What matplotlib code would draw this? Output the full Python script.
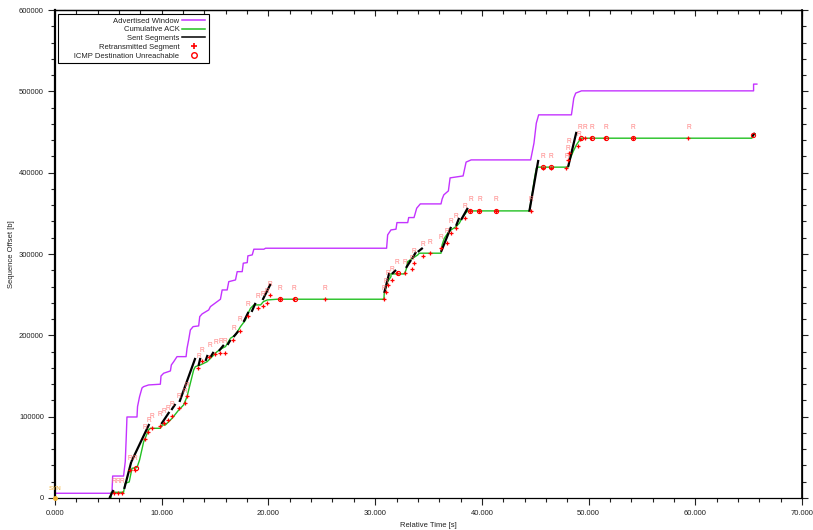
import matplotlib
matplotlib.use("Agg")
import matplotlib.pyplot as plt
from matplotlib.ticker import MultipleLocator, FormatStrFormatter, NullFormatter
from matplotlib.lines import Line2D

plt.rcParams['font.family'] = ['Liberation Sans', 'DejaVu Sans']

# ---- data (time [s], sequence offset [b]) ----
adv_t = [0.00, 5.33, 5.40, 6.42, 6.58, 6.67, 6.74, 7.68, 7.73, 7.92, 8.15, 8.30, 8.77, 9.87, 9.93,
         10.18, 10.81, 10.90, 11.12, 11.43, 12.28, 12.37, 12.52, 12.68, 12.94, 13.46, 13.56, 13.78,
         14.40, 14.56, 15.50, 15.66, 16.13, 16.28, 16.91, 17.07, 17.54, 17.64, 18.01, 18.07, 18.48,
         18.63, 19.57, 19.73, 31.07, 31.17, 31.48, 31.95, 32.04, 33.05, 33.14, 33.64, 33.76, 33.89,
         34.23, 36.17, 36.27, 36.43, 36.86, 37.02, 38.24, 38.52, 38.99, 44.57, 44.88, 45.10, 45.32,
         48.39, 48.48, 48.61, 48.79, 49.33, 65.46, 65.46, 65.77]
adv_seq = [5800, 5800, 27000, 27000, 44600, 73800, 99600, 99600, 112300, 124600, 135300, 136900,
           139000, 139900, 150000, 153400, 156200, 163600, 167600, 173800, 173800, 184100, 194300,
           206600, 210700, 211600, 223000, 226300, 231200, 235300, 244400, 255800, 255800, 266000,
           268100, 278300, 278300, 288700, 289400, 297700, 298900, 305900, 305900, 307100, 307100,
           323500, 329600, 330500, 338600, 338600, 344800, 344800, 350200, 356300, 361600, 361600,
           367400, 372700, 377600, 393600, 396000, 413000, 415700, 415700, 436300, 460900, 471100,
           471100, 479300, 491600, 497800, 500600, 500600, 508900, 508900]

ack_t = [5.10, 5.26, 5.26, 6.42, 6.58, 6.95, 7.21, 7.68, 7.92, 8.30, 8.77, 8.93, 9.87, 10.03, 10.34,
         10.65, 10.97, 11.59, 11.75, 12.05, 12.37, 12.68, 12.99, 13.15, 13.62, 14.25, 14.72, 15.19,
         15.66, 15.97, 16.44, 16.91, 17.38, 17.85, 18.01, 18.32, 18.63, 19.26, 19.52, 19.89, 20.83,
         30.82, 30.85, 31.17, 31.48, 31.48, 32.73, 32.89, 33.05, 33.52, 33.99, 34.14, 36.17, 36.27,
         36.48, 36.80, 37.11, 37.58, 37.89, 38.12, 38.36, 38.52, 38.68, 44.44, 44.63, 44.91, 45.10,
         45.26, 48.08, 48.23, 48.55, 48.86, 49.17, 49.33, 65.30, 65.46, 65.58]
ack_seq = [0, 0, 7000, 7000, 18100, 19700, 36500, 37500, 46700, 68900, 83600, 85700, 85700, 89800,
           89800, 93800, 98000, 108200, 110300, 114400, 124600, 141100, 157400, 161500, 163600,
           167600, 173800, 180000, 184100, 186100, 196400, 200500, 210700, 218900, 225100, 233300,
           237400, 237400, 241400, 243500, 244400, 244400, 251800, 266000, 272200, 275500, 275500,
           280400, 290600, 294800, 298900, 301000, 301000, 311200, 319400, 325600, 329600, 333700,
           337900, 344000, 348100, 350900, 353000, 353000, 366500, 391100, 405500, 406800, 406800,
           415700, 425900, 434200, 440300, 442400, 442400, 446500, 447700]

# sent-segment bursts: start time, start seq, end time, end seq
sent_t0 = [5.10, 6.48, 7.14, 9.96, 10.90, 11.66, 13.44, 14.10, 14.58, 15.35, 16.16, 16.72, 17.67,
           18.42, 19.45, 30.85, 31.57, 32.89, 33.45, 33.99, 36.17, 37.58, 38.05, 44.44, 48.08, 65.30]
sent_s0 = [0, 11100, 44300, 91000, 108200, 118100, 162400, 168500, 173400, 180800, 188200, 198000,
           216500, 228800, 243500, 252200, 275500, 282900, 294000, 302600, 302600, 334600, 341900,
           351800, 407100, 444000]
sent_t1 = [5.48, 7.14, 8.83, 10.71, 11.28, 13.15, 13.62, 14.30, 14.86, 15.82, 16.44, 17.19, 18.13,
           18.79, 20.20, 31.32, 31.95, 33.36, 33.83, 34.46, 37.11, 37.87, 38.68, 45.29, 48.86, 65.58]
sent_s1 = [9800, 44300, 91000, 105800, 115600, 172200, 172200, 175900, 179600, 188200, 194300,
           205400, 228800, 239900, 263200, 276800, 280400, 292700, 302600, 307500, 333300, 344400,
           356700, 415700, 450200, 448900]

rtx_t = [5.54, 5.92, 6.30, 7.05, 7.52, 8.46, 8.75, 9.11, 9.87, 10.20, 10.55, 10.92, 11.65, 12.21,
         12.40, 13.44, 13.75, 14.47, 15.03, 15.50, 15.95, 16.72, 17.29, 18.04, 18.98, 19.45, 19.85,
         20.15, 21.05, 22.36, 25.27,
         30.79, 31.20, 31.00, 31.60, 32.04, 32.79, 33.42, 33.67, 34.46, 35.14, 36.17, 36.74,
         37.11, 37.58, 38.43, 38.93, 39.77, 41.34, 44.57,
         45.73, 46.51, 47.92, 48.05, 48.15, 49.05, 49.20, 49.64, 50.27, 51.58, 54.12, 59.35]
rtx_seq = [6150, 6150, 6150, 34400, 34400, 72600, 81000, 86100, 88600, 92500, 96000, 101000, 110700,
           116900, 125000, 159900, 168000, 173400, 177100, 178400, 178400, 194300, 205400, 223900,
           233700, 236200, 240000, 249000, 244400, 244400, 244400,
           244400, 262000, 253000, 267500, 276400, 276400, 281300, 289400, 297700, 301000,
           307100, 314000, 326300, 332500, 344800, 353000, 353000, 353000, 353000,
           406300, 406300, 406300, 415500, 424500, 433000, 442000, 442400, 442400, 442400, 442400,
           442400]

icmp_t = [7.61, 21.08, 22.46, 32.11, 38.93, 39.77, 41.34, 45.73, 46.51, 49.26, 50.33, 51.61, 54.19,
          65.38]
icmp_seq = [36900, 244400, 244400, 276400, 353000, 353000, 353000, 406800, 406800, 442400, 442400,
            442400, 442400, 446500]

syn_t = [0.0]
syn_seq = [0]

legend_labels = ['Advertised Window', 'Cumulative ACK', 'Sent Segments', 'Retransmitted Segment',
                 'ICMP Destination Unreachable']

PURPLE = '#c433ff'
GREEN = '#22c022'
RPINK = '#ff6a6a'

fig = plt.figure(figsize=(8.13, 5.30), dpi=100)
ax = fig.add_axes([0.0677, 0.0604, 0.9188, 0.9207])

ax.plot(adv_t, adv_seq, color=PURPLE, lw=1.0, zorder=2)
ax.plot(ack_t, ack_seq, color=GREEN, lw=1.0, zorder=3)
for a, b, c, d in zip(sent_t0, sent_s0, sent_t1, sent_s1):
    ax.plot([a, c], [b, d], color='black', lw=1.6, solid_capstyle='butt', zorder=4)

ax.plot(rtx_t, rtx_seq, linestyle='none', marker='+', color='red', ms=3.0, mew=0.9, zorder=5)
for t, s in zip(rtx_t, rtx_seq):
    ax.annotate('R', (t, s), xytext=(0, 5.5), textcoords='offset points', ha='center',
                va='bottom', fontsize=4.8, color=RPINK, alpha=0.85, zorder=6)
ax.plot(icmp_t, icmp_seq, linestyle='none', marker='o', mfc='none', mec='red', ms=3.0, mew=0.8,
        zorder=5)

ax.plot(syn_t, syn_seq, linestyle='none', marker='o', color='#f0b030', ms=2.5, clip_on=False, zorder=6)
for t, s in zip(syn_t, syn_seq):
    ax.annotate('SYN', (t, s), xytext=(0, 5), textcoords='offset points', ha='center', va='bottom',
                fontsize=4.5, color='#f0b030', annotation_clip=False)

ax.set_xlim(0, 70)
ax.set_ylim(0, 600000)
ax.xaxis.set_major_locator(MultipleLocator(10))
ax.xaxis.set_minor_locator(MultipleLocator(2))
ax.yaxis.set_major_locator(MultipleLocator(100000))
ax.yaxis.set_minor_locator(MultipleLocator(20000))
ax.xaxis.set_major_formatter(FormatStrFormatter('%.3f'))
ax.yaxis.set_major_formatter(FormatStrFormatter('%d'))

ax.tick_params(axis='both', which='both', labelsize=5.5, colors='#222222', labelcolor='#222222',
               top=False, right=False)
ax.tick_params(axis='x', which='major', direction='out', length=5, width=0.8, pad=4)
ax.tick_params(axis='x', which='minor', direction='out', length=3, width=0.8)
ax.tick_params(axis='y', which='major', direction='out', length=5, width=0.8, pad=3)
ax.tick_params(axis='y', which='minor', direction='out', length=3, width=0.8)

# top axis: ticks pointing inward; right axis: ticks outward
secx = ax.secondary_xaxis('top')
secx.xaxis.set_major_locator(MultipleLocator(10))
secx.xaxis.set_minor_locator(MultipleLocator(2))
secx.xaxis.set_major_formatter(NullFormatter())
secx.tick_params(which='major', direction='in', length=4, width=0.8, colors='#222222')
secx.tick_params(which='minor', direction='in', length=3, width=0.8, colors='#222222')
secx.spines['top'].set_linewidth(0.9)

secy = ax.secondary_yaxis('right')
secy.yaxis.set_major_locator(MultipleLocator(100000))
secy.yaxis.set_minor_locator(MultipleLocator(20000))
secy.yaxis.set_major_formatter(NullFormatter())
secy.tick_params(which='major', direction='out', length=4, width=0.8, colors='#222222')
secy.tick_params(which='minor', direction='out', length=3, width=0.8, colors='#222222')
secy.spines['right'].set_linewidth(1.2)

ax.spines['left'].set_linewidth(1.6)
for sp in ['bottom', 'top', 'right']:
    ax.spines[sp].set_linewidth(0.9)

ax.set_xlabel('Relative Time [s]', fontsize=5.5, color='#222222', labelpad=3)
ax.set_ylabel('Sequence Offset [b]', fontsize=5.5, color='#222222')
ax.yaxis.set_label_coords(-0.054, 0.5)

handles = [
    Line2D([], [], color=PURPLE, lw=1.1),
    Line2D([], [], color=GREEN, lw=1.1),
    Line2D([], [], color='black', lw=1.1),
    Line2D([], [], linestyle='none', marker='+', color='red', ms=4, mew=1.2),
    Line2D([], [], linestyle='none', marker='o', mfc='none', mec='red', ms=4, mew=1.0),
]
shown = ['      ' + legend_labels[-1] if i == len(legend_labels) - 1 else lab
         for i, lab in enumerate(legend_labels)]
leg = ax.legend(handles, shown, loc='upper left', bbox_to_anchor=(0.004, 0.992), borderaxespad=0,
                markerfirst=False, fontsize=5.5, fancybox=False, framealpha=1, edgecolor='black',
                handlelength=3.1, handletextpad=0.3, labelspacing=0.18, borderpad=0.45)
leg.get_frame().set_linewidth(0.8)
for txt in leg.get_texts():
    txt.set_ha('right')
    txt.set_color('#222222')
leg._legend_box.align = 'right'

fig.savefig('out.png', dpi=100)
